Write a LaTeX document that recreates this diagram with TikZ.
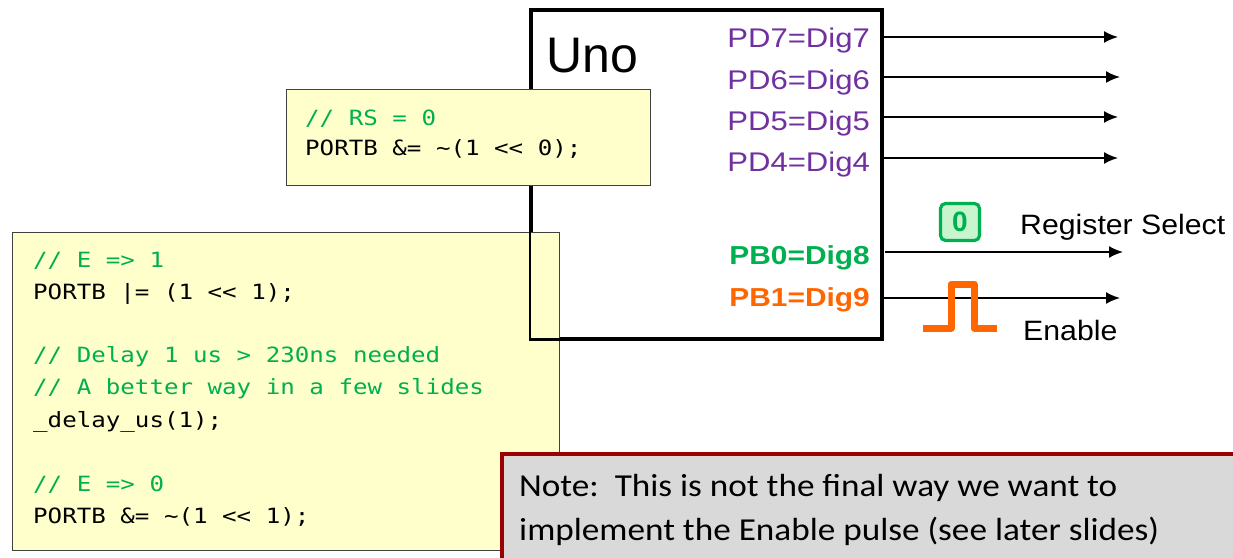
\documentclass[tikz,border=0pt]{standalone}
\usepackage{fontspec}
\usepackage{graphicx}
\setmainfont{Liberation Sans}
\setmonofont{DejaVu Sans Mono}[FakeStretch=1.15]
\newfontfamily\pinfont{Liberation Sans}[FakeStretch=1.15]
\newfontfamily\sigfont{Liberation Sans}[FakeStretch=1.08]
\newfontfamily\notefont{Carlito}[FakeStretch=1.1]
\usetikzlibrary{arrows.meta}
\definecolor{codegreen}{HTML}{00B050}
\definecolor{pdpurple}{HTML}{7030A0}
\definecolor{pborange}{HTML}{FF6600}
\definecolor{codeyellow}{HTML}{FFFFCC}
\definecolor{notered}{HTML}{9C0000}
\definecolor{notegray}{HTML}{D9D9D9}
\definecolor{zerofill}{HTML}{C6F5CE}
\tikzset{
  codebox/.style={draw=black!75, line width=1.3pt, fill=codeyellow, inner sep=0pt, anchor=north west},
  codeline/.style={font=\ttfamily\fontsize{21}{25}\selectfont, anchor=base west, inner sep=0pt},
  cmt/.style={codeline, text=codegreen},
  pdlabel/.style={font=\pinfont\fontsize{27}{27}\selectfont, text=pdpurple, anchor=base east, inner sep=0pt},
  pblabel/.style={font=\pinfont\bfseries\fontsize{26}{26}\selectfont, anchor=base east, inner sep=0pt},
  siglabel/.style={font=\sigfont\fontsize{28}{28}\selectfont, anchor=base west, inner sep=0pt},
  sig/.style={-{Latex[length=14pt,width=12pt]}, line width=1.8pt},
  notetext/.style={font=\notefont\fontsize{32}{32}\selectfont, anchor=base west, inner sep=0pt},
}
\begin{document}
\begin{tikzpicture}[x=1pt,y=-1pt]
\useasboundingbox (0,0) rectangle (1233,557);

% Uno box (fill and frame)
\node[draw, line width=2.6pt, fill=white, anchor=north west, minimum width=350pt, minimum height=328pt, inner sep=0pt] (uno) at (530,9) {};

% Large code box
\node[codebox, minimum width=547pt, minimum height=318pt] (code2) at (12,232) {};
\node[cmt] (c21) at (33,267) {// E => 1};
\node[codeline] (c22) at (33,299) {PORTB |= (1 << 1);};
\node[cmt] (c23) at (33,362) {// Delay 1 us > 230ns needed};
\node[cmt] (c24) at (33,394) {// A better way in a few slides};
\node[codeline] (c25) at (33,427) {\_delay\_us(1);};
\node[cmt] (c26) at (33,491) {// E => 0};
\node[codeline] (c27) at (33,523) {PORTB \&= \textasciitilde(1 << 1);};

% Uno frame drawn again over the large code box
\draw[line width=2.6pt] (uno.north west) rectangle (uno.south east);

% Small code box
\node[codebox, minimum width=364pt, minimum height=96pt] (code1) at (286,89) {};
\node[cmt] (c11) at (305,125) {// RS = 0};
\node[codeline] (c12) at (305,155) {PORTB \&= \textasciitilde(1 << 0);};

% Uno title
\node[font=\fontsize{50}{50}\selectfont, anchor=base west, inner sep=0pt] (unotitle) at (546,72) {Uno};

% Pin labels
\node[pdlabel] (pd7) at (870,47) {PD7=Dig7};
\node[pdlabel] (pd6) at (870,89) {PD6=Dig6};
\node[pdlabel] (pd5) at (870,130) {PD5=Dig5};
\node[pdlabel] (pd4) at (870,171) {PD4=Dig4};
\node[pblabel, text=codegreen] (pb0) at (870,264) {PB0=Dig8};
\node[pblabel, text=pborange] (pb1) at (870,306) {PB1=Dig9};

% Arrow ends
\coordinate (e7) at (1118,37);
\coordinate (e6) at (1120,77);
\coordinate (e5) at (1118,117);
\coordinate (e4) at (1118,158);
\coordinate (e8) at (1123,252);
\coordinate (e9) at (1120,298);
\coordinate (s8) at (885,252);
\coordinate (s9) at (882,298);

\draw[sig] (uno.east |- e7) -- (e7);
\draw[sig] (uno.east |- e6) -- (e6);
\draw[sig] (uno.east |- e5) -- (e5);
\draw[sig] (uno.east |- e4) -- (e4);
\draw[sig] (s8) -- (e8);
\draw[sig] (s9) -- (e9);

% Register select value
\node[draw=codegreen, line width=3.2pt, fill=zerofill, rounded corners=5pt, minimum width=39pt, minimum height=37pt, inner sep=0pt, text=codegreen, font=\bfseries\fontsize{28}{28}\selectfont] (rs0) at (960,222) {0};
\node[siglabel] (rslabel) at (1020,234) {Register Select};

% Enable pulse
\draw[pborange, line width=7pt, line join=round] (923,328) -- (951,328) -- (951,284) -- (974,284) -- (974,328) -- (997,328);
\node[siglabel] (enlabel) at (1023,340) {Enable};

% Note box
\node[draw=notered, line width=3.5pt, fill=notegray, anchor=north west, minimum width=760pt, minimum height=130pt, inner sep=0pt] (note) at (500,452) {};
\node[notetext] (n1) at (519,496) {Note:\ \ This is not the final way we want to};
\node[notetext] (n2) at (519,540) {implement the Enable pulse (see later slides)};
\end{tikzpicture}
\end{document}
